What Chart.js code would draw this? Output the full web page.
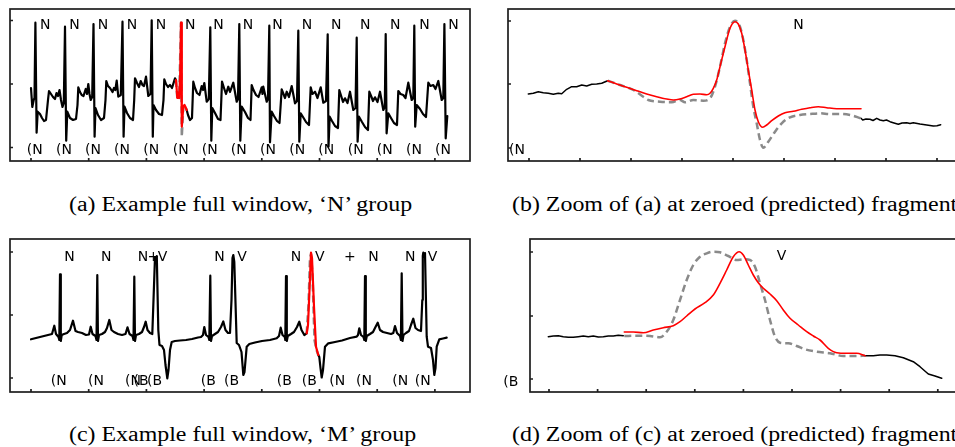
<!DOCTYPE html>
<html>
<head>
<meta charset="utf-8">
<script src="https://cdn.jsdelivr.net/npm/chart.js@4.4.1/dist/chart.umd.min.js"></script>
<style>
  html, body { margin: 0; padding: 0; background: #fff; }
  body { width: 955px; height: 447px; overflow: hidden; position: relative; }
  canvas { position: absolute; }
  .caption {
    position: absolute;
    font-family: "Liberation Serif", "Times New Roman", serif;
    font-size: 20px;
    line-height: 20px;
    white-space: nowrap;
    color: #000;
    transform: scaleX(1.195);
    transform-origin: 0 0;
  }
</style>
</head>
<body>
<canvas id="panel-a" width="480" height="172" style="left:0;top:0"></canvas>
<canvas id="panel-b" width="470" height="172" style="left:498px;top:0"></canvas>
<canvas id="panel-c" width="480" height="172" style="left:0;top:230px"></canvas>
<canvas id="panel-d" width="470" height="172" style="left:498px;top:230px"></canvas>

<div class="caption" style="left:69px;top:194px">(a) Example full window, ‘N’ group</div>
<div class="caption" style="left:512px;top:194px">(b) Zoom of (a) at zeroed (predicted) fragment</div>
<div class="caption" style="left:69px;top:424px">(c) Example full window, ‘M’ group</div>
<div class="caption" style="left:512px;top:424px">(d) Zoom of (c) at zeroed (predicted) fragment</div>

<script>
// ---- (a) full window, N group: [sample, amplitude] ----
const aSignalBefore = [
  [0,-4],[1.3,-23],[2.7,-16],[3.5,-14],[4.4,61.3],[5.6,-48.7],[6.7,-27.7],[9,-30],[11,-34],[13,-37],[15,-36],[17,-16],[18,-7],[20,-10],[22,-13],[24,-15],[25.5,-9],[27,-12],[28.5,-6],[30,-16],[31.5,-23],[32.8,-19],
  [34,57.3],[35.2,-56.7],[36.3,-27.7],[39,-34],[42,-36],[45,-35],[46.5,-21],[47.3,-3.3],[49,-8],[50.7,-11],[52.5,-12],[54.7,-5],[56,-10],[57.3,0],[58.5,-10],[59.7,-16],[61.2,-13],
  [62.5,60],[63.6,-52.7],[64.5,-24],[67,-31],[70,-36],[73,-34],[74.5,-16],[75.3,3],[77,-2],[79,-4],[81.5,-8],[83,-4],[84.3,-6],[85.7,3.3],[87.3,-12.7],[89.8,-11],
  [91.5,62.3],[92.6,-52.7],[93.5,-22.7],[96,-29],[99,-34],[102,-36],[103.2,-16],[104,5.7],[106,1],[108,-3],[109.7,3],[111.5,-1],[113,-2],[115,7.3],[117.3,-12],[119.5,-10],
  [120.7,63.7],[121.8,-52.7],[122.5,-21],[125,-26],[128,-30],[131,-31],[132.5,-16],[133.3,4.7],[135,0],[137,-3],[139,-1],[141,-4],[144,5.7],[145,4]
];
const aPredicted = [[145,4],[146.3,-14],[147.3,-8.7],[148.2,-14],[149.2,10],[150,61.3],[150.8,-42.7],[152.3,-22.7],[153.5,-21],[154.5,-23],[155.7,-26]];
const aTrue = [[145,4],[146.3,-14],[147.3,-9],[148.2,-14],[150,61.3],[150.8,-52.7],[152.3,-22.7],[153.5,-21],[155.7,-26]];
const aSignalAfter = [
  [155.7,-26],[157,-31],[159,-36],[161,-34],[162.3,2.3],[164,-4],[166,-9],[168.5,-11],[170.7,-2],[172,-6],[173.3,1],[175.7,-17.7],[177.8,-15],
  [179.3,56.7],[180.3,-56.7],[181.3,-24],[184,-29],[187,-35],[189.5,-36],[190.3,-16],[191,2.3],[193,-4],[195,-10],[197.3,-2.7],[199,-8],[202.3,1.3],[205.7,-17.7],[207,-15],
  [208.3,60],[209.3,-56.7],[210.7,-22.7],[214,-28],[217,-34],[219.5,-36],[220.7,-1],[222.5,-6],[225,-11],[227.5,-13],[230.7,-3.3],[231.5,-10],[232.3,-2.7],[235.7,-17.7],[237,-15],
  [238.3,58.3],[239,-58.3],[240.7,-27.7],[243,-32],[246,-37],[248.5,-39],[250.7,-5.3],[252.5,-10],[254,-14],[255.7,-7.7],[258,-13],[260.7,-2],[264,-19.3],[266,-17],
  [267.3,53.3],[268.3,-57.7],[269.7,-29.3],[272,-33],[275,-38],[278,-41],[279.7,-3.3],[281.5,-10],[284,-7.7],[286.5,-14],[289.7,-3.3],[292.3,-18.7],[295,-17],
  [296.7,49.7],[297.5,-62.7],[298.7,-32.7],[301,-37],[304,-42],[307,-44],[308.3,-6],[310.5,-13],[312,-18],[314,-14.3],[316.5,-19],[319,-7.7],[322.3,-26],[324.5,-24],
  [325.7,46.3],[326.6,-57.7],[328,-32.7],[331,-38],[334,-43],[337,-46],[338.3,-7.7],[340.5,-13],[342,-17],[344,-13.3],[346.5,-18],[349,-7.7],[352.3,-26],[353.8,-23],
  [354.7,50],[355.6,-49.3],[357.3,-29.3],[360,-34],[363,-39],[366,-41],[367.3,-7],[369.5,-10],[372.3,-11],[374.5,-14],[377.3,1.3],[380.7,-16],[382.3,-14],
  [383.3,58.3],[384.2,-42.7],[385.7,-21],[389,-25],[392,-30],[395,-33],[397.3,1.3],[399.5,-2],[402.3,-1],[404.5,-5],[407.3,3],[410.7,-16],[412.3,-14],
  [413.4,60],[414.7,-54.3],[416.3,-32]
];
const aBeatLabels = ['N','N','N','N','N','N','N','N','N','N','N','N','N','N','N'];
const aBeatX = [9, 38.3, 66.7, 95.7, 124.7, 154, 182.3, 211.7, 241.3, 270.7, 300, 329, 359, 388.3, 417.3];
const aRhythmLabels = ['(N','(N','(N','(N','(N','(N','(N','(N','(N','(N','(N','(N','(N','(N','(N'];
const aRhythmX = [-4.3, 25, 54, 83, 112.3, 141.7, 170.7, 199.7, 229, 258.3, 287.3, 316.7, 345.7, 375, 404];

// ---- (b) zoom on the predicted N fragment ----
const bSignalBefore = [
  [-0.7,-10],[4.3,-9.3],[9.3,-7.7],[14.3,-8.7],[19.3,-9.3],[24.3,-10.3],[29.3,-9.3],[32.7,-9.7],[37.7,-5.3],[42.7,-2.7],[47.7,-2.7],[52.7,-1],[57.7,-2],[62.7,-0.3],[67.7,0],[72.7,0.7],[78.7,3.3]
];
const bPredicted = [
  [78.7,3.3],[87.7,0],[97.7,-3.3],[107.7,-6.7],[117.7,-10],[127.7,-12.7],[137.7,-15],[144.3,-16],[151,-15],[157.7,-12.7],[164.3,-10.3],[171,-10],[177.7,-10.7],[181,-9.3],[184.3,-4.3],[187.7,4],
  [191,17.3],[196,37.3],[201,55.7],[206,62.3],[209.3,60],[212.7,50.7],[216,34],[219.3,14],[222.7,-6],[226,-26],[229.3,-37.7],[233.7,-43.3],[237.7,-41],[242.7,-36.7],[249.3,-32],
  [256,-28.7],[264.3,-27.3],[272.7,-25.3],[281,-23.7],[289.3,-22.7],[297.7,-23.7],[307.7,-24.7],[317.7,-24.7],[332,-24.7]
];
const bTrue = [
  [78.7,3.3],[91,-1],[104.3,-6],[114.3,-12.7],[119.3,-16],[131,-17.7],[142.7,-18.3],[151,-16],[156,-18.3],[164.3,-16],[174.3,-16.7],[181,-14.3],[186,-2.7],[191,17.3],[196,40.7],[201,57.3],
  [206,63.3],[211,57.3],[214.3,44],[217.7,24],[221,0.7],[224.3,-22.7],[227.7,-39.3],[231,-56],[234.3,-63.7],[239.3,-57.7],[246,-47.7],[252.7,-39.3],[261,-33.3],[271,-31],[281,-30],
  [291,-29.3],[301,-30],[311,-30],[321,-31],[332,-34.3]
];
const bSignalAfter = [
  [332,-34.3],[333.7,-36],[337,-35],[341,-35.3],[344,-36.5],[347.7,-34.3],[351,-36],[354.3,-36.7],[357.5,-36],[361,-37.7],[365,-39],[369.3,-40.3],[373,-39],[377.7,-38.7],[381,-39.5],
  [384.3,-38.7],[391,-40],[397.7,-41],[404.3,-42],[408,-41.7],[411.7,-40.7]
];
const bBeatLabels = ['N'];
const bBeatX = [264.3];
const bRhythmLabels = ['(N'];
const bRhythmX = [-20];

// ---- (c) full window, M group ----
const cSignalBefore = [
  [0,-24.3],[5,-23],[11,-21.5],[17,-20],[21,-19],[23.3,-10.7],[25,-19],[27.5,-22],[28.3,-25],[29,40.7],[29.8,-26],[30.7,-20],[33,-19],[36,-18],[39,-15],[42,-5.7],[44.5,-16],[47,-17],[51,-18],[55,-20],[58,-19.5],
  [59.7,-11.7],[61.5,-19],[64.5,-21],[65.5,-25],[66.3,40],[67,-26],[68,-20],[71,-19],[74,-17],[76,-13],[78.3,-5],[80.5,-15],[83,-17],[87,-19],[91,-20],[94.5,-19],
  [96.5,-12.3],[98.5,-19],[101.5,-21],[102.5,-25],[103.3,38.3],[104,-26],[105,-20],[108,-19],[111,-17],[113,-12],[114.7,-6.7],[116.5,-15],[119,-18],[121.3,-19],
  [122.5,15],[124,58],[125,56.5],[125.8,59],[127.3,-15],[128.5,-30],[131,-31],[133,-35],[134.5,-50],[136.3,-63.3],[137.5,-55],[139,-35],[140.7,-27],[144,-26],[149,-25.5],[155,-25],[161,-24],[167,-22.5],[170,-22],[172,-20],
  [173.3,-12],[175,-20],[177.5,-22],[178.3,-25],[179.3,39.3],[180,-26],[181,-21],[184,-19],[187,-17],[190,-12],[192.3,-6.5],[194.5,-15],[197,-18],[199,-18],
  [200.5,15],[201.5,57],[202.3,60],[203.3,53],[205.7,-28],[208,-30],[210.5,-37],[212.3,-60],[213.5,-57],[215.7,-31.7],[218.3,-29],[224,-27.5],[231,-26],[239,-25],[245.7,-23.3],[248,-21],
  [249.7,-12.7],[251.5,-20],[253.8,-22],[254.3,-25],[255,39],[255.8,-26],[256.8,-21],[260,-19],[263,-17],[266,-12],[268.3,-6.7],[270.5,-15],[273.3,-20],[275.7,-18.3]
];
const cPredicted = [[275.7,-18.3],[277,-10],[278.5,25],[280,62.3],[281,57],[283,8.3],[285,-31.7],[287.3,-40]];
const cTrue = [[275.7,-18.3],[277.5,10],[279,57],[280,61],[281.5,40],[283.5,-25],[285.5,-35],[287.3,-40]];
const cSignalAfter = [
  [287.3,-40],[288.3,-42],[289.5,-53],[290.7,-62.5],[292,-55],[294,-31.7],[297.3,-28.3],[304,-27],[311,-25.5],[319,-23],[325.7,-21.7],[327,-20],
  [328.3,-13.3],[330,-20],[332.5,-22],[333.3,-25],[334,39],[334.8,-26],[335.8,-21],[339,-19],[342,-17],[344.5,-12],[346.7,-7.7],[349,-15],[352,-17],[356,-18],[360,-19],[362.3,-18],
  [364,-11],[366,-18],[369,-21],[369.9,-25],[370.7,41.7],[371.5,-26],[372.5,-20],[375,-18],[378,-16],[380,-10],[382.3,-3.7],[384.5,-13],[387,-15],[390,-16],
  [391.3,15],[391.8,59],[392.3,62.3],[393.2,58],[394,62],[395.7,-21.7],[397,-31.7],[400,-33],[402,-45],[403.3,-60],[404.5,-53],[405.7,-31.7],[408.3,-24.3],[412,-23.5],[415.7,-22.7]
];
const cBeatLabels = ['N','N','N','+','V','N','V','N','V','+','N','N','V'];
const cBeatX = [33.3, 70, 106.7, 116.5, 126.7, 183.3, 206.3, 259.7, 284, 313, 337.3, 374, 396.7];
const cRhythmLabels = ['(N','(N','(N','(B','(B','(B','(B','(B','(B','(N','(N','(N','(N'];
const cRhythmX = [19.7, 57, 94, 102.5, 116, 169.8, 193, 245.7, 270.7, 298.3, 325, 361.2, 383.7];

// ---- (d) zoom on the predicted V fragment ----
const dSignalBefore = [
  [-0.7,-20.7],[4.3,-20],[9.3,-19.7],[14.3,-20.7],[19.3,-21.3],[24.3,-21.3],[29.3,-20.7],[34.3,-20],[39.3,-20.7],[44.3,-20],[49.3,-21],[54.3,-20.7],[59.3,-20],[64.3,-20],[69.3,-19.3],[74.3,-19.7]
];
const dPredicted = [
  [75.3,-16],[84.3,-16],[94.3,-16.7],[104.3,-14],[114.3,-11.7],[124.3,-9.7],[131,-5.7],[137.7,0],[146,7],[156,13.3],[164.3,21],[171,32.7],[177.7,46],[184.3,59.3],[190.3,64.3],[194.3,61],
  [199.3,51],[204.3,41],[209.3,33.3],[214.3,27.7],[221,22],[227.7,15.3],[234.3,6],[241,-2.3],[249.3,-9],[257.7,-15.7],[264.3,-20],[271,-24],[279.3,-32.3],[287.7,-36.7],[297.7,-37.3],
  [307.7,-37.3],[316,-39.7]
];
const dTrue = [
  [75.3,-20],[87.7,-19.7],[101,-20],[111,-21.3],[117.7,-15.7],[124.3,-4],[131,16],[137.7,36],[144.3,51],[151,59.3],[157.7,62.7],[164.3,64.3],[171,63.7],[179.3,60],[187.7,56],[194.3,56.7],
  [201,56],[206,49.3],[211,32.7],[216,16],[221,-4],[226,-20.7],[231,-26.7],[239.3,-27.3],[247.7,-30],[256,-33.3],[267.7,-35.7],[281,-37.3],[294.3,-40],[307.7,-40],[316,-39.7]
];
const dSignalAfter = [
  [316,-39.7],[324.3,-39.7],[331,-39],[337.7,-39],[346,-39.7],[354.3,-41.7],[364.3,-45.7],[371,-50.7],[379.3,-58],[386,-60],[392.7,-62.3]
];
const dBeatLabels = ['V'];
const dBeatX = [227.7];
const dRhythmLabels = ['(B'];
const dRhythmX = [-45.7];

// unlabeled axis ticks
const windowTicksX = [0, 57.7, 115.4, 173.1, 230.8, 288.5, 346.2, 403.9];
const aTicksY = [63.5, 0, -63.5];
const cTicksY = [63, 0, -63];
const bTicksX = [0, 51, 102, 153, 204, 255, 306, 357, 408];
const bTicksY = [63, 0, -64];
const dTicksX = [0, 48.6, 97.2, 145.8, 194.4, 243, 291.6, 340.2, 388.8];
const dTicksY = [64, 0, -63];

// box, inward ticks and beat / rhythm annotations
function panelDecor(cfg) {
  return {
    id: 'panelDecor',
    afterDraw(chart) {
      const {ctx, chartArea: area, scales: {x, y}} = chart;
      ctx.save();
      ctx.strokeStyle = '#1e1e1e';
      ctx.lineWidth = 1.7;
      ctx.strokeRect(area.left, area.top, area.right - area.left, area.bottom - area.top);
      ctx.beginPath();
      cfg.ticksX.forEach(v => {
        const px = x.getPixelForValue(v);
        ctx.moveTo(px, area.bottom);
        ctx.lineTo(px, area.bottom - 3);
      });
      cfg.ticksY.forEach(v => {
        const py = y.getPixelForValue(v);
        ctx.moveTo(area.left, py);
        ctx.lineTo(area.left + 3, py);
      });
      ctx.stroke();

      ctx.fillStyle = '#000';
      ctx.font = '14px "DejaVu Sans", sans-serif';
      ctx.textAlign = 'left';
      ctx.textBaseline = 'alphabetic';
      cfg.beatLabels.forEach((t, i) => {
        ctx.fillText(t, x.getPixelForValue(cfg.beatX[i]), y.getPixelForValue(cfg.beatY));
      });
      cfg.rhythmLabels.forEach((t, i) => {
        ctx.fillText(t, x.getPixelForValue(cfg.rhythmX[i]), y.getPixelForValue(cfg.rhythmY));
      });
      ctx.restore();
    }
  };
}

function signal(data, width) {
  return {data: data, borderColor: '#000', borderWidth: width, tension: 0};
}
function predicted(data, width, smooth) {
  return {data: data, borderColor: '#ff0000', borderWidth: width,
    cubicInterpolationMode: smooth ? 'monotone' : 'default', tension: 0};
}
function truth(data, smooth) {
  return {data: data, borderColor: '#8a8a8a', borderWidth: 2.5, borderDash: [7, 4],
    borderCapStyle: 'butt', cubicInterpolationMode: smooth ? 'monotone' : 'default', tension: 0};
}

function drawPanel(id, cfg) {
  new Chart(document.getElementById(id), {
    type: 'line',
    data: {datasets: cfg.series},
    options: {
      responsive: false,
      animation: false,
      events: [],
      layout: {padding: cfg.padding},
      elements: {
        point: {radius: 0},
        line: {borderJoinStyle: 'round', borderCapStyle: 'round'}
      },
      scales: {
        x: {type: 'linear', display: false, min: cfg.xRange[0], max: cfg.xRange[1]},
        y: {type: 'linear', display: false, min: cfg.yRange[0], max: cfg.yRange[1]}
      },
      plugins: {legend: {display: false}, tooltip: {enabled: false}}
    },
    plugins: [panelDecor(cfg)]
  });
}

// first dataset is painted last, so the prediction sits on top
drawPanel('panel-a', {
  series: [predicted(aPredicted, 2.2, false), truth(aTrue, false), signal(aSignalBefore, 2.2), signal(aSignalAfter, 2.2)],
  padding: {left: 10, top: 9, right: 10, bottom: 11},
  xRange: [-21, 439], yRange: [-77, 75],
  ticksX: windowTicksX, ticksY: aTicksY,
  beatLabels: aBeatLabels, beatX: aBeatX, beatY: 55,
  rhythmLabels: aRhythmLabels, rhythmX: aRhythmX, rhythmY: -70
});

drawPanel('panel-b', {
  series: [predicted(bPredicted, 1.6, true), truth(bTrue, true), signal(bSignalBefore, 1.5), signal(bSignalAfter, 1.5)],
  padding: {left: 10, top: 9, right: 10, bottom: 11},
  xRange: [-21, 429], yRange: [-77, 75],
  ticksX: bTicksX, ticksY: bTicksY,
  beatLabels: bBeatLabels, beatX: bBeatX, beatY: 55,
  rhythmLabels: bRhythmLabels, rhythmX: bRhythmX, rhythmY: -70
});

drawPanel('panel-c', {
  series: [predicted(cPredicted, 2.2, false), truth(cTrue, false), signal(cSignalBefore, 2.2), signal(cSignalAfter, 2.2)],
  padding: {left: 10, top: 9, right: 10, bottom: 10},
  xRange: [-21, 439], yRange: [-77, 76],
  ticksX: windowTicksX, ticksY: cTicksY,
  beatLabels: cBeatLabels, beatX: cBeatX, beatY: 54.3,
  rhythmLabels: cRhythmLabels, rhythmX: cRhythmX, rhythmY: -70
});

drawPanel('panel-d', {
  series: [predicted(dPredicted, 1.6, true), truth(dTrue, true), signal(dSignalBefore, 1.5), signal(dSignalAfter, 1.5)],
  padding: {left: 32, top: 9, right: 11, bottom: 10},
  xRange: [-19, 408], yRange: [-76, 77],
  ticksX: dTicksX, ticksY: dTicksY,
  beatLabels: dBeatLabels, beatX: dBeatX, beatY: 56,
  rhythmLabels: dRhythmLabels, rhythmX: dRhythmX, rhythmY: -69.7
});
</script>
</body>
</html>
